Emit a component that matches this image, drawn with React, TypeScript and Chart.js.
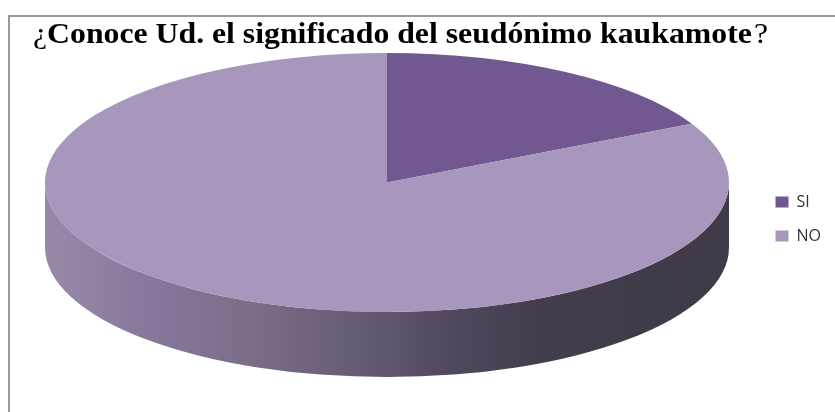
import React, { useEffect, useRef } from 'react';
import { Chart, registerables } from 'chart.js';

Chart.register(...registerables);

// ---- data ----
const categories: string[] = ['SI', 'NO'];
const values: number[] = [7, 33];
const sliceColors: string[] = ['#725890', '#A797BD'];
const titleParts: string[] = ['¿', 'Conoce Ud. el significado del seudónimo kaukamote', '?'];

// ---- layout / style ----
const W = 835;
const H = 412;
const PIE = { cx: 387, cy: 182.5, rx: 342, ry: 129.5, depth: 65 };
const TITLE = { left: 33, right: 768, baseline: 43, size: 30, family: '"Liberation Serif", "Times New Roman", serif' };

const framePlugin = {
  id: 'frame',
  beforeDraw(chart: any) {
    const ctx = chart.ctx as CanvasRenderingContext2D;
    ctx.save();
    ctx.fillStyle = '#ffffff';
    ctx.fillRect(0, 0, W, H);
    ctx.strokeStyle = '#9a9a9a';
    ctx.lineWidth = 2;
    ctx.beginPath();
    ctx.moveTo(9, H + 5);
    ctx.lineTo(9, 16);
    ctx.lineTo(W + 5, 16);
    ctx.stroke();
    ctx.restore();
  },
};

const titlePlugin = {
  id: 'mixedTitle',
  afterDraw(chart: any) {
    const ctx = chart.ctx as CanvasRenderingContext2D;
    const normal = `${TITLE.size}px ${TITLE.family}`;
    const bold = `bold ${TITLE.size}px ${TITLE.family}`;
    ctx.save();
    ctx.font = normal;
    const w0 = ctx.measureText(titleParts[0]).width;
    const w2 = ctx.measureText(titleParts[2]).width;
    ctx.font = bold;
    const w1 = ctx.measureText(titleParts[1]).width;
    const gap = 2;
    const total = w0 + w1 + gap + w2;
    const sx = (TITLE.right - TITLE.left) / total;
    ctx.translate(TITLE.left, TITLE.baseline);
    ctx.scale(sx, 1);
    ctx.fillStyle = '#000000';
    ctx.textBaseline = 'alphabetic';
    ctx.textAlign = 'left';
    ctx.font = normal;
    ctx.fillText(titleParts[0], 0, 0);
    ctx.font = bold;
    ctx.fillText(titleParts[1], w0, 0);
    ctx.font = normal;
    ctx.fillText(titleParts[2], w0 + w1 + gap, 0);
    ctx.restore();
  },
};

const pie3dPlugin = {
  id: 'pie3d',
  beforeDatasetsDraw(chart: any) {
    const ctx = chart.ctx as CanvasRenderingContext2D;
    const meta = chart.getDatasetMeta(0);
    const arc: any = meta.data[0];
    const { cx, cy, rx, ry, depth } = PIE;
    // side wall
    ctx.save();
    const g = ctx.createLinearGradient(cx - rx, 0, cx + rx, 0);
    g.addColorStop(0, '#978aa8');
    g.addColorStop(0.17, '#85769a');
    g.addColorStop(0.3, '#7a6e88');
    g.addColorStop(0.45, '#675c76');
    g.addColorStop(0.62, '#4d4559');
    g.addColorStop(0.72, '#433d4c');
    g.addColorStop(1, '#3f3a48');
    ctx.fillStyle = g;
    ctx.beginPath();
    ctx.moveTo(cx + rx, cy);
    ctx.ellipse(cx, cy, rx, ry, 0, 0, Math.PI, false);
    ctx.lineTo(cx - rx, cy + depth);
    ctx.ellipse(cx, cy + depth, rx, ry, 0, Math.PI, 0, true);
    ctx.closePath();
    ctx.fill();
    ctx.restore();
    // squash the top face
    ctx.save();
    const R = arc.outerRadius;
    ctx.translate(cx, cy);
    ctx.scale(rx / R, ry / R);
    ctx.translate(-arc.x, -arc.y);
  },
  afterDatasetsDraw(chart: any) {
    chart.ctx.restore();
  },
};

export default function App() {
  const ref = useRef<HTMLCanvasElement | null>(null);
  useEffect(() => {
    document.body.style.margin = '0';
    if (!ref.current) return;
    const chart = new Chart(ref.current, {
      type: 'pie',
      data: {
        labels: categories,
        datasets: [
          {
            data: values,
            backgroundColor: sliceColors,
            borderWidth: 0,
            clip: false as any,
          },
        ],
      },
      options: {
        animation: false,
        responsive: false,
        events: [],
        layout: { padding: { top: 26, right: 4, bottom: 0, left: 0 } },
        plugins: {
          title: { display: false },
          tooltip: { enabled: false },
          legend: {
            position: 'right',
            labels: {
              boxWidth: 13,
              boxHeight: 11,
              padding: 18,
              color: '#333333',
              font: { family: '"Open Sans", sans-serif', size: 16 },
            },
          },
        },
      },
      plugins: [framePlugin, pie3dPlugin, titlePlugin],
    });
    return () => chart.destroy();
  }, []);
  return (
    <div style={{ width: W, height: H }}>
      <canvas ref={ref} width={W} height={H} style={{ display: 'block' }} />
    </div>
  );
}
